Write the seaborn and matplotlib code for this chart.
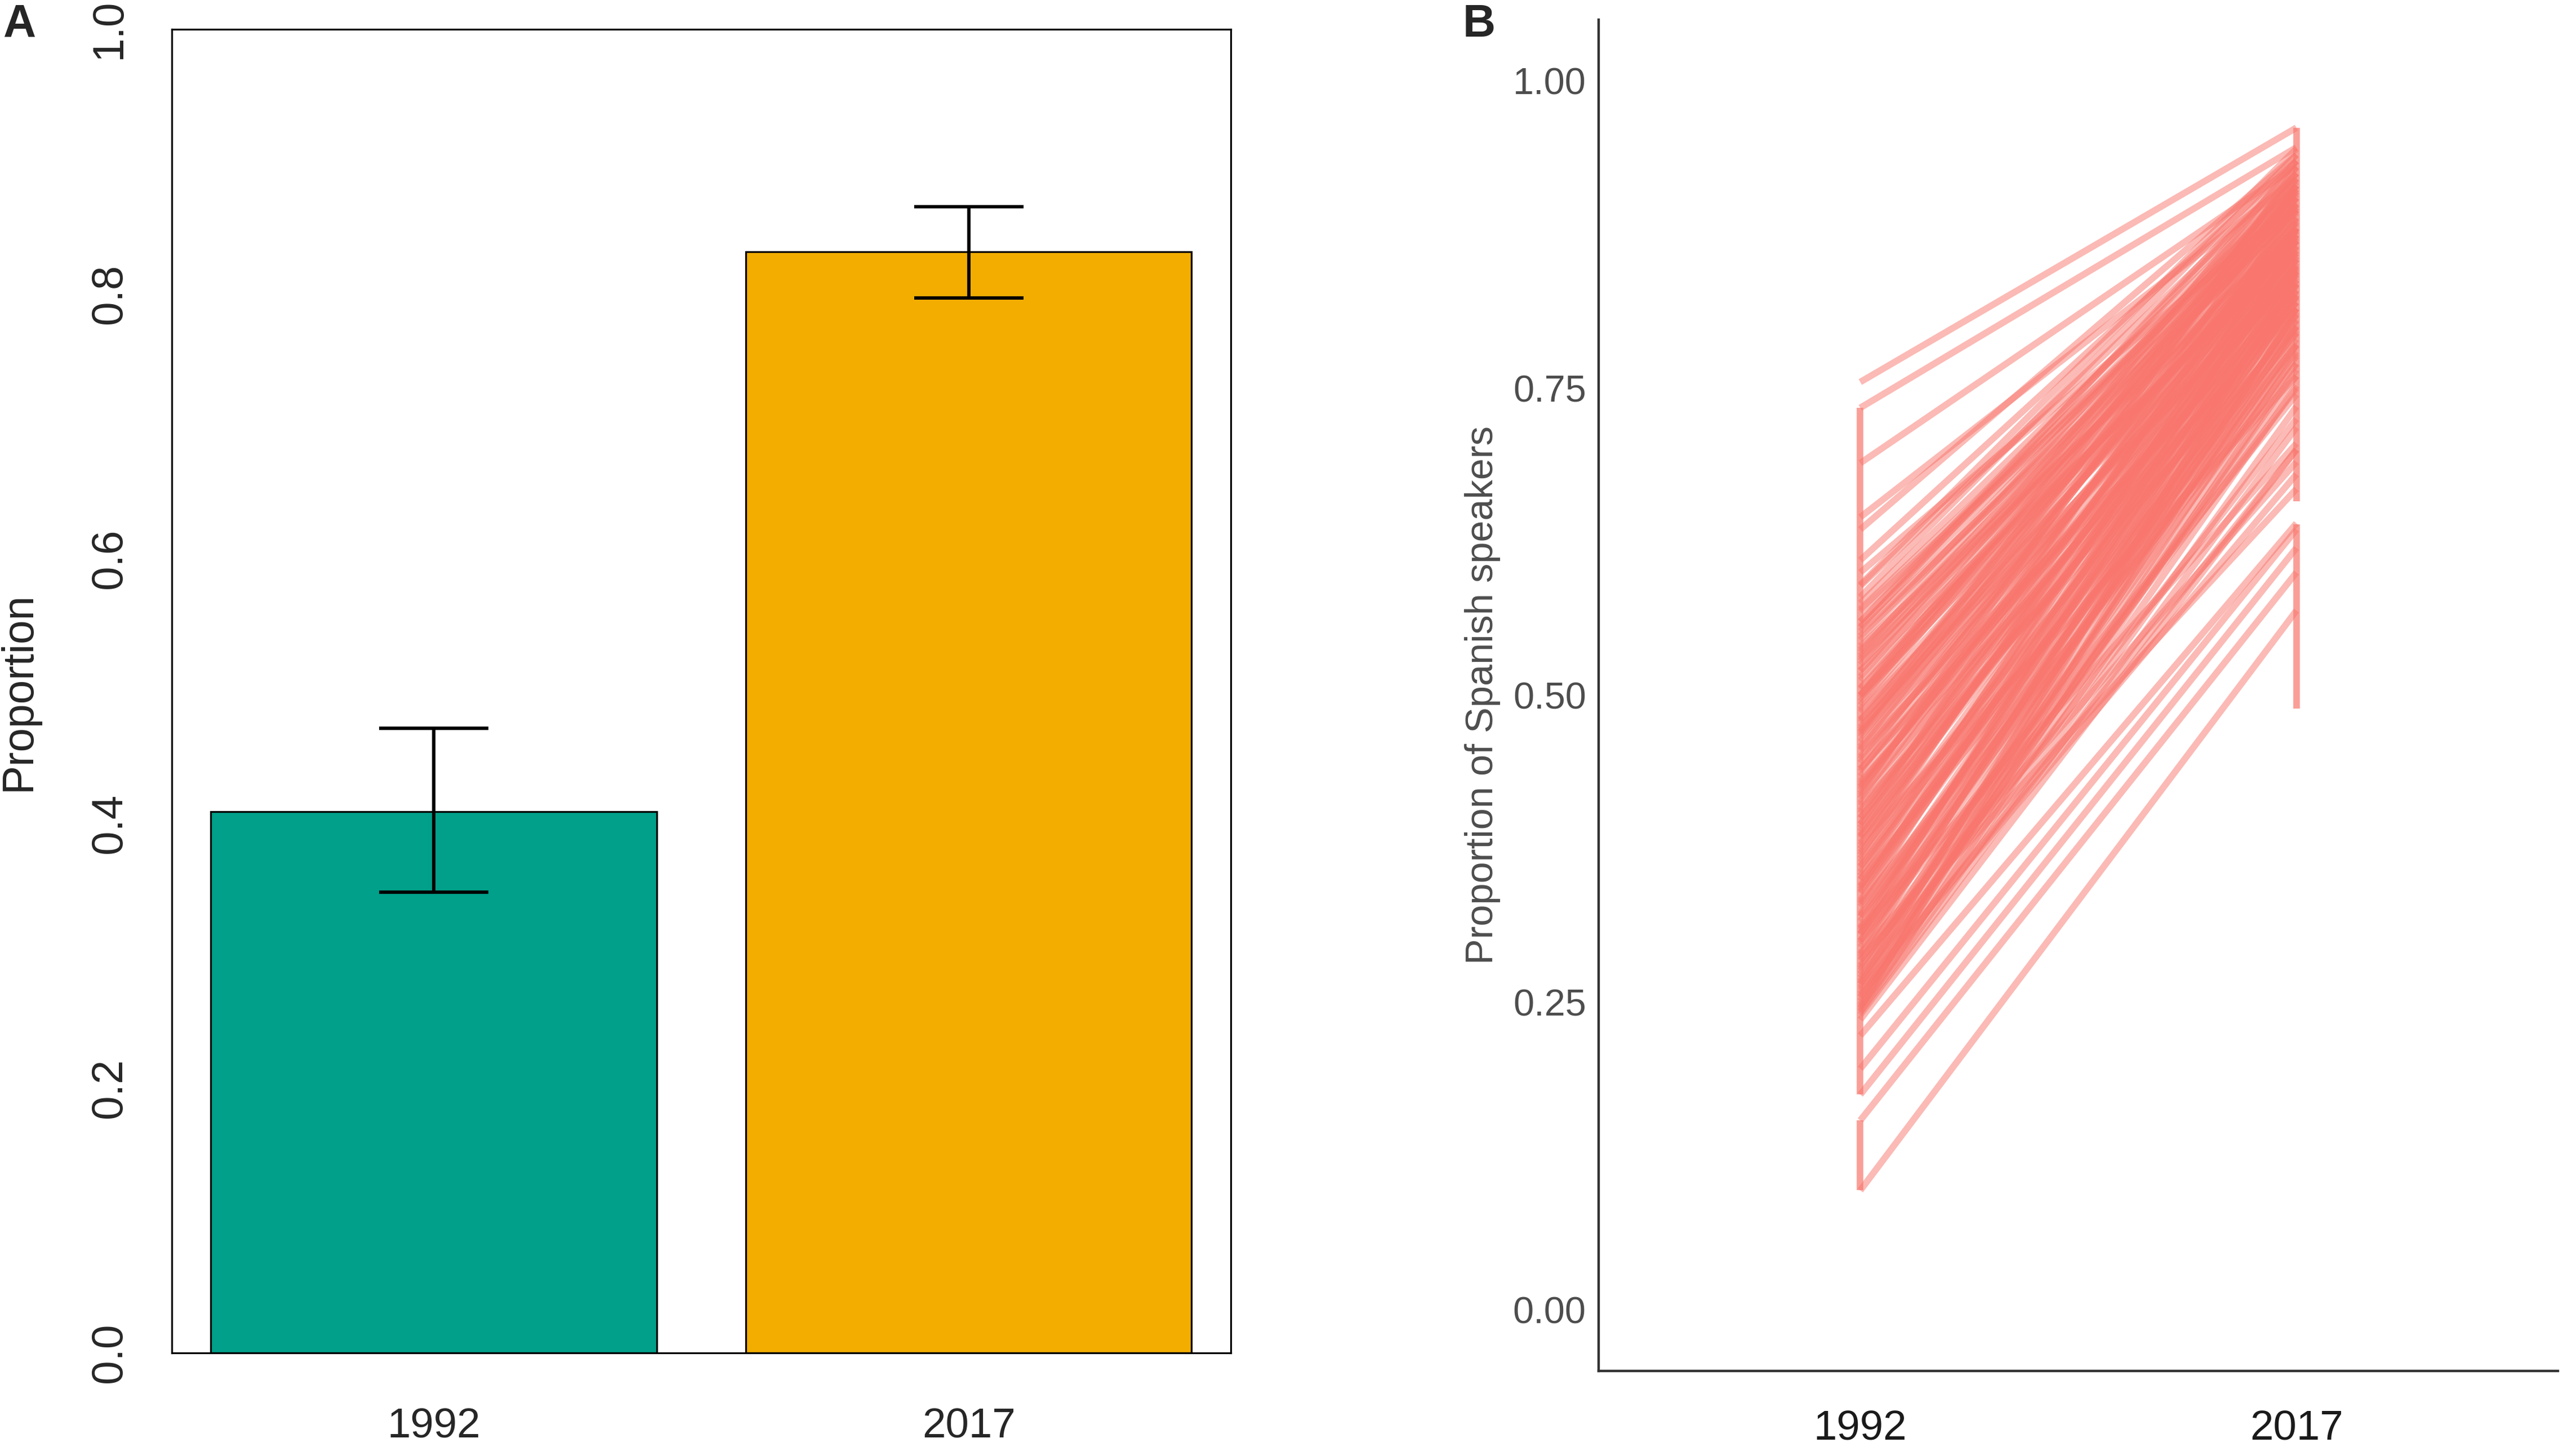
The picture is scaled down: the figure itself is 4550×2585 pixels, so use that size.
import numpy as np
import pandas as pd
import matplotlib
matplotlib.use("Agg")
import matplotlib.pyplot as plt
import seaborn as sns

# ---- Panel A data: mean proportion with interval
years = ["1992", "2017"]
prop_mean = [0.409, 0.832]
prop_lo = [0.348, 0.797]
prop_hi = [0.472, 0.866]
bar_colors = ["#00A08A", "#F2AD00"]

# ---- Panel B data: one line per region, 1992 -> 2017
y1992 = [0.755, 0.734, 0.689, 0.645, 0.635, 0.600, 0.589, 0.556, 0.537, 0.500,
         0.472, 0.575, 0.568, 0.560, 0.552, 0.545, 0.540, 0.532, 0.525, 0.520,
         0.512, 0.506, 0.498, 0.492, 0.486, 0.480, 0.474, 0.468, 0.462, 0.456,
         0.450, 0.445, 0.440, 0.434, 0.428, 0.423, 0.418, 0.412, 0.406, 0.400,
         0.395, 0.389, 0.384, 0.378, 0.372, 0.367, 0.361, 0.356, 0.350, 0.344,
         0.339, 0.333, 0.328, 0.322, 0.316, 0.311, 0.306, 0.300, 0.295, 0.289,
         0.284, 0.278, 0.273, 0.267, 0.262, 0.257, 0.251, 0.246, 0.242, 0.240,
         0.410, 0.380, 0.455, 0.520, 0.300, 0.330, 0.270, 0.350, 0.480, 0.430,
         0.255, 0.290, 0.310, 0.260, 0.285, 0.470, 0.395, 0.370, 0.500, 0.420,
         0.340, 0.306, 0.245, 0.236, 0.223, 0.196, 0.175, 0.154, 0.097,
         0.580, 0.570, 0.555, 0.548, 0.535, 0.528, 0.515, 0.505, 0.495, 0.488,
         0.478, 0.466, 0.458, 0.448, 0.438, 0.426, 0.416, 0.404, 0.392, 0.386,
         0.375, 0.364, 0.353, 0.342, 0.331, 0.320, 0.309, 0.298, 0.287, 0.276,
         0.265, 0.254, 0.248, 0.243, 0.470, 0.440, 0.400, 0.360, 0.320, 0.280,
         0.500, 0.530, 0.560, 0.590, 0.610, 0.425, 0.385, 0.345, 0.305, 0.265]
y2017 = [0.962, 0.946, 0.931, 0.921, 0.940, 0.901, 0.925, 0.912, 0.895, 0.905,
         0.880, 0.918, 0.897, 0.930, 0.889, 0.915, 0.870, 0.908, 0.884, 0.921,
         0.866, 0.899, 0.878, 0.912, 0.858, 0.893, 0.870, 0.905, 0.849, 0.886,
         0.862, 0.897, 0.842, 0.878, 0.855, 0.889, 0.835, 0.870, 0.847, 0.881,
         0.826, 0.862, 0.838, 0.873, 0.815, 0.852, 0.829, 0.866, 0.806, 0.843,
         0.820, 0.857, 0.797, 0.834, 0.810, 0.848, 0.786, 0.824, 0.800, 0.838,
         0.776, 0.812, 0.790, 0.826, 0.765, 0.801, 0.778, 0.752, 0.735, 0.718,
         0.800, 0.760, 0.820, 0.860, 0.745, 0.770, 0.725, 0.785, 0.840, 0.815,
         0.700, 0.690, 0.705, 0.680, 0.668, 0.925, 0.915, 0.900, 0.935, 0.930,
         0.880, 0.870, 0.845, 0.700, 0.640, 0.635, 0.620, 0.600, 0.569,
         0.940, 0.905, 0.935, 0.900, 0.925, 0.895, 0.910, 0.885, 0.920, 0.875,
         0.910, 0.880, 0.915, 0.872, 0.905, 0.860, 0.895, 0.850, 0.888, 0.845,
         0.880, 0.835, 0.875, 0.825, 0.865, 0.815, 0.855, 0.805, 0.845, 0.795,
         0.835, 0.785, 0.815, 0.770, 0.850, 0.830, 0.820, 0.795, 0.780, 0.750,
         0.870, 0.880, 0.915, 0.945, 0.935, 0.875, 0.855, 0.830, 0.810, 0.760]
# vertical runs drawn at each year
stems_1992 = [(0.097, 0.154), (0.175, 0.734)]
stems_2017 = [(0.489, 0.639), (0.658, 0.962)]

sns.set_style("white")
plt.rcParams["font.family"] = ["Liberation Sans", "DejaVu Sans"]

fig = plt.figure(figsize=(4550 / 290, 2585 / 290), dpi=290)
W, H = 1568, 891
axA = fig.add_axes([105 / W, 1 - 828 / H, (753 - 105) / W, (828 - 18) / H])
axB = fig.add_axes([978 / W, 1 - 839 / H, (1565 - 978) / W, (839 - 12) / H])

# ---- Panel A
sns.barplot(x=years, y=prop_mean, hue=years, palette=bar_colors, width=1 / 1.2,
            saturation=1, edgecolor="black", linewidth=0.8, errorbar=None,
            legend=False, ax=axA)
err = [np.array(prop_mean) - np.array(prop_lo), np.array(prop_hi) - np.array(prop_mean)]
axA.errorbar(range(len(years)), prop_mean, yerr=err, fmt="none", ecolor="black",
             elinewidth=1.5, capsize=24, capthick=1.5)
axA.set_xlim(-0.49, 1.49)
axA.set_ylim(0, 1)
axA.set_yticks(np.arange(0, 1.01, 0.2))
axA.set_yticklabels([f"{v:.1f}" for v in np.arange(0, 1.01, 0.2)], rotation=90, va="center")
axA.tick_params(axis="y", length=9.4, width=0.8, labelsize=19, pad=9, color="black")
axA.tick_params(axis="x", length=0, labelsize=18.5, pad=24)
axA.set_xlabel("")
axA.set_ylabel("Proportion", fontsize=19)
axA.yaxis.set_label_coords(-0.125, 0.5)
for s in axA.spines.values():
    s.set_visible(True)
    s.set_color("black")
    s.set_linewidth(0.8)

# ---- Panel B
ids = np.arange(len(y1992))
df = pd.DataFrame({
    "id": np.concatenate([ids, ids]),
    "year": [1992] * len(y1992) + [2017] * len(y2017),
    "prop": y1992 + y2017,
})
line_col = "#F8766D"
sns.lineplot(data=df, x="year", y="prop", units="id", estimator=None, sort=False,
             color=line_col, alpha=0.5, linewidth=2.9, legend=False, ax=axB,
             solid_capstyle="butt")
for lo, hi in stems_1992:
    axB.vlines(1992, lo, hi, color=line_col, alpha=0.7, linewidth=2.9)
for lo, hi in stems_2017:
    axB.vlines(2017, lo, hi, color=line_col, alpha=0.7, linewidth=2.9)

axB.set_xlim(1992 - 0.6 * 25, 2017 + 0.6 * 25)
axB.set_ylim(-0.05, 1.05)
axB.set_xticks([1992, 2017])
axB.set_xticklabels(years)
axB.set_yticks([0, 0.25, 0.5, 0.75, 1.0])
axB.set_yticklabels(["0.00", "0.25", "0.50", "0.75", "1.00"])
axB.tick_params(axis="y", length=3, width=1, labelsize=16.5, pad=2.5,
                color="#333333", labelcolor="#4D4D4D")
axB.tick_params(axis="x", length=4, width=1, labelsize=18.5, pad=13,
                color="#333333", labelcolor="#1A1A1A")
axB.set_xlabel("")
axB.set_ylabel("Proportion of Spanish speakers", fontsize=17, color="#4D4D4D")
axB.yaxis.set_label_coords(-0.102, 0.5)
axB.spines["top"].set_visible(False)
axB.spines["right"].set_visible(False)
for side in ["left", "bottom"]:
    axB.spines[side].set_color("#333333")
    axB.spines[side].set_linewidth(1.1)

# panel letters
fig.text(2 / W, 1 - 2 / H, "A", fontsize=20, fontweight="bold", va="top", ha="left")
fig.text(895 / W, 1 - 2 / H, "B", fontsize=20, fontweight="bold", va="top", ha="left")

fig.savefig("out.png", dpi=290, facecolor="white")
